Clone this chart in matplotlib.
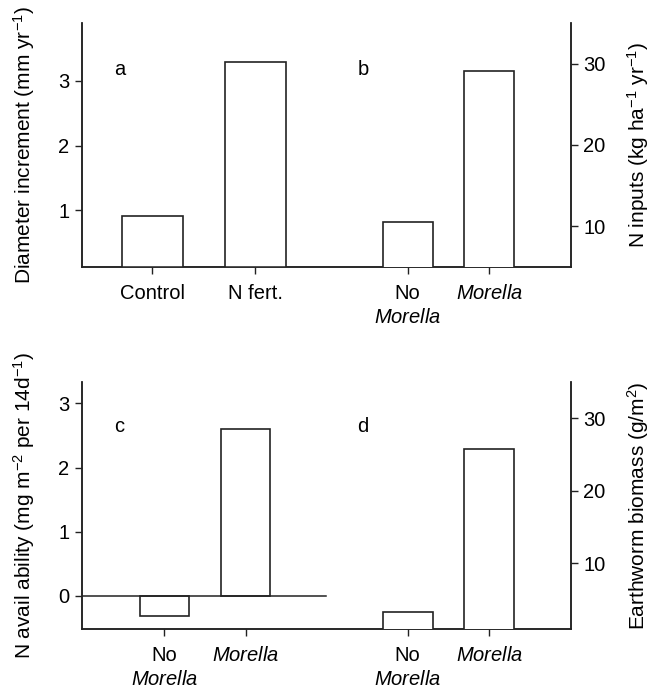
"""
Four-panel bar figure (a-d): tree growth, N inputs, N availability and
earthworm biomass, with / without Morella. Two axes rows, each with a left
and a right (twinx) scale.
"""

import matplotlib

matplotlib.use("Agg")
import matplotlib.pyplot as plt  # noqa: E402

plt.rcParams["font.family"] = ["Liberation Sans", "DejaVu Sans"]
plt.rcParams["mathtext.fontset"] = "custom"
plt.rcParams["mathtext.rm"] = "Liberation Sans"
plt.rcParams["mathtext.it"] = "Liberation Sans:italic"

# data
GROWTH_CATS = ["Control", "N fert."]
diam_incr = [0.91, 3.3]            # mm/yr, panel a (left scale)
MORELLA_CATS = ["No\n$\\it{Morella}$", "$\\it{Morella}$"]
n_inputs = [10.6, 29.1]            # kg/ha/yr, panel b (right scale)
n_avail = [-0.31, 2.6]             # mg/m2 per 14 d, panel c (left scale)
worm_biomass = [3.3, 25.8]         # g/m2, panel d (right scale)

# layout (x in arbitrary units, axes spans 0..10)
XA, XB = [1.44, 3.54], [6.66, 8.33]
XC = [1.68, 3.35]
EDGE = "#222222"
FS = 14.5
FS_LAB = 15


def style(ax):
    ax.spines["top"].set_visible(False)
    ax.tick_params(axis="both", labelsize=FS, length=5, width=1, color=EDGE,
                   direction="out")
    ax.tick_params(axis="x", pad=7)
    ax.tick_params(axis="y", pad=4)
    for s in ax.spines.values():
        s.set_linewidth(1.1)
        s.set_color(EDGE)


def bars(ax, x, h, w):
    ax.bar(x, h, width=w, facecolor="white", edgecolor=EDGE, linewidth=1.2,
           zorder=3)


fig = plt.figure(figsize=(6.51, 6.92), dpi=100)
ax1 = fig.add_axes([0.126, 0.614, 0.751, 0.353])
ax2 = fig.add_axes([0.126, 0.091, 0.751, 0.3566])

# --- top row: a (left) & b (right)
ax1r = ax1.twinx()
bars(ax1, XA, diam_incr, 1.25)
bars(ax1r, XB, n_inputs, 1.02)
ax1.set_xlim(0, 10)
ax1.set_ylim(0.12, 3.9)
ax1.set_yticks([1, 2, 3])
ax1r.set_ylim(5, 35)
ax1r.set_yticks([10, 20, 30])
ax1.set_xticks(XA + XB)
ax1.set_xticklabels(GROWTH_CATS + MORELLA_CATS)
ax1.set_ylabel("Diameter increment (mm yr$^{-1}$)", fontsize=FS_LAB)
ax1r.set_ylabel("N inputs (kg ha$^{-1}$ yr$^{-1}$)", fontsize=FS_LAB)
ax1.text(0.078, 0.807, "a", fontsize=FS, ha="center", va="center",
         transform=ax1.transAxes)
ax1.text(0.575, 0.807, "b", fontsize=FS, ha="center", va="center",
         transform=ax1.transAxes)

# --- bottom row: c (left) & d (right)
ax2r = ax2.twinx()
bars(ax2, XC, n_avail, 1.0)
bars(ax2r, XB, worm_biomass, 1.02)
ax2.plot([0, 5], [0, 0], color=EDGE, lw=1.1, zorder=4)
ax2.set_xlim(0, 10)
ax2.set_ylim(-0.52, 3.33)
ax2.set_yticks([0, 1, 2, 3])
ax2r.set_ylim(0.9, 35)
ax2r.set_yticks([10, 20, 30])
ax2.set_xticks(XC + XB)
ax2.set_xticklabels(MORELLA_CATS + MORELLA_CATS)
ax2.set_ylabel("N avail ability (mg m$^{-2}$ per 14d$^{-1}$)", fontsize=FS_LAB)
ax2r.set_ylabel("Earthworm biomass (g/m$^2$)", fontsize=FS_LAB)
ax2.text(0.076, 0.82, "c", fontsize=FS, ha="center", va="center",
         transform=ax2.transAxes)
ax2.text(0.575, 0.82, "d", fontsize=FS, ha="center", va="center",
         transform=ax2.transAxes)

for ax in (ax1, ax1r, ax2, ax2r):
    style(ax)
for ax in (ax1, ax2):
    ax.yaxis.set_label_coords(-0.092, 0.5)
    for lbl in ax.get_xticklabels():
        lbl.set_linespacing(1.35)
for ax in (ax1r, ax2r):
    ax.yaxis.set_label_coords(1.11, 0.5)

fig.savefig("out.png", dpi=100)
print("wrote out.png")
